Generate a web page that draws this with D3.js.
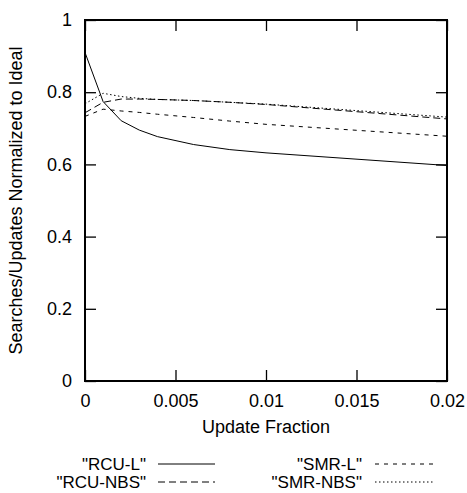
<!DOCTYPE html>
<html><head><meta charset="utf-8">
<script src="https://cdn.jsdelivr.net/npm/d3@7"></script>
<style>body{margin:0;background:#fff}svg text{font-family:"Liberation Sans",Arial,sans-serif;font-size:18px;fill:#000}</style>
</head><body>
<svg id="c" width="467" height="493"></svg>
<script>
const xs = [0, 0.001, 0.002, 0.003, 0.004, 0.006, 0.008, 0.01, 0.02];
const rcuL   = [0.910, 0.774, 0.721, 0.695, 0.677, 0.655, 0.641, 0.632, 0.597];
const rcuNBS = [0.743, 0.772, 0.781, 0.781, 0.780, 0.777, 0.772, 0.766, 0.726];
const smrL   = [0.733, 0.753, 0.748, 0.744, 0.739, 0.730, 0.720, 0.711, 0.678];
const smrNBS = [0.768, 0.797, 0.788, 0.783, 0.780, 0.777, 0.772, 0.767, 0.731];
const xTicks = [0, 0.005, 0.01, 0.015, 0.02];
const xTickLabels = ["0", "0.005", "0.01", "0.015", "0.02"];
const yTicks = [0, 0.2, 0.4, 0.6, 0.8, 1];
const yTickLabels = ["0", "0.2", "0.4", "0.6", "0.8", "1"];
const seriesNames = ['"RCU-L"', '"RCU-NBS"', '"SMR-L"', '"SMR-NBS"'];
const seriesValues = [rcuL, rcuNBS, smrL, smrNBS];
const dashes = [null, "7,4", "4,5", "1.5,2.5"];

const L = 85, R = 447, T = 20, B = 381;
const svg = d3.select("#c");
const x = d3.scaleLinear().domain([0, 0.02]).range([L, R]);
const y = d3.scaleLinear().domain([0, 1]).range([B, T]);
const tl = 11;

const styleTicks = a => { a.select(".domain").remove(); a.selectAll("line").attr("stroke","#000").attr("stroke-width",1.3); a.selectAll("text").attr("font-size",null).attr("font-family",null); };
svg.append("g").attr("transform", `translate(0,${B})`)
  .call(d3.axisBottom(x).tickValues(xTicks).tickFormat((d,i)=>xTickLabels[i]).tickSizeInner(-tl).tickSizeOuter(0).tickPadding(13))
  .call(styleTicks);
svg.append("g").attr("transform", `translate(0,${T})`)
  .call(d3.axisTop(x).tickValues(xTicks).tickFormat("").tickSizeInner(-tl).tickSizeOuter(0))
  .call(styleTicks);
svg.append("g").attr("transform", `translate(${L},0)`)
  .call(d3.axisLeft(y).tickValues(yTicks).tickFormat((d,i)=>yTickLabels[i]).tickSizeInner(-tl).tickSizeOuter(0).tickPadding(13))
  .call(styleTicks);
svg.append("g").attr("transform", `translate(${R},0)`)
  .call(d3.axisRight(y).tickValues(yTicks).tickFormat("").tickSizeInner(-tl).tickSizeOuter(0))
  .call(styleTicks);

const line = d3.line().x((d,i)=>x(xs[i])).y(d=>y(d));
seriesValues.forEach((vals, k) => {
  svg.append("path").attr("d", line(vals)).attr("fill","none")
    .attr("stroke","#000").attr("stroke-width",1)
    .attr("stroke-dasharray", dashes[k]);
});

svg.append("rect").attr("x",L).attr("y",T).attr("width",R-L).attr("height",B-T)
  .attr("fill","none").attr("stroke","#000").attr("stroke-width",2);

svg.append("text").attr("x",(L+R)/2).attr("y",427).attr("dy","0.35em").attr("text-anchor","middle").text("Update Fraction");
svg.append("text").attr("transform",`translate(16,${(T+B)/2}) rotate(-90)`).attr("dy","0.35em").attr("text-anchor","middle").text("Searches/Updates Normalized to Ideal");

const legPos = [[146,158,215,464],[146,158,215,482],[362,375,433,464],[362,375,433,482]];
seriesNames.forEach((n,k)=>{
  const p = legPos[k];
  svg.append("text").attr("x",p[0]).attr("y",p[3]).attr("dy","0.35em").attr("text-anchor","end").style("font-size","17px").text(n);
  svg.append("line").attr("x1",p[1]).attr("x2",p[2]).attr("y1",p[3]).attr("y2",p[3])
    .attr("stroke","#000").attr("stroke-width",1).attr("stroke-dasharray",dashes[k]);
});
</script>
</body></html>
